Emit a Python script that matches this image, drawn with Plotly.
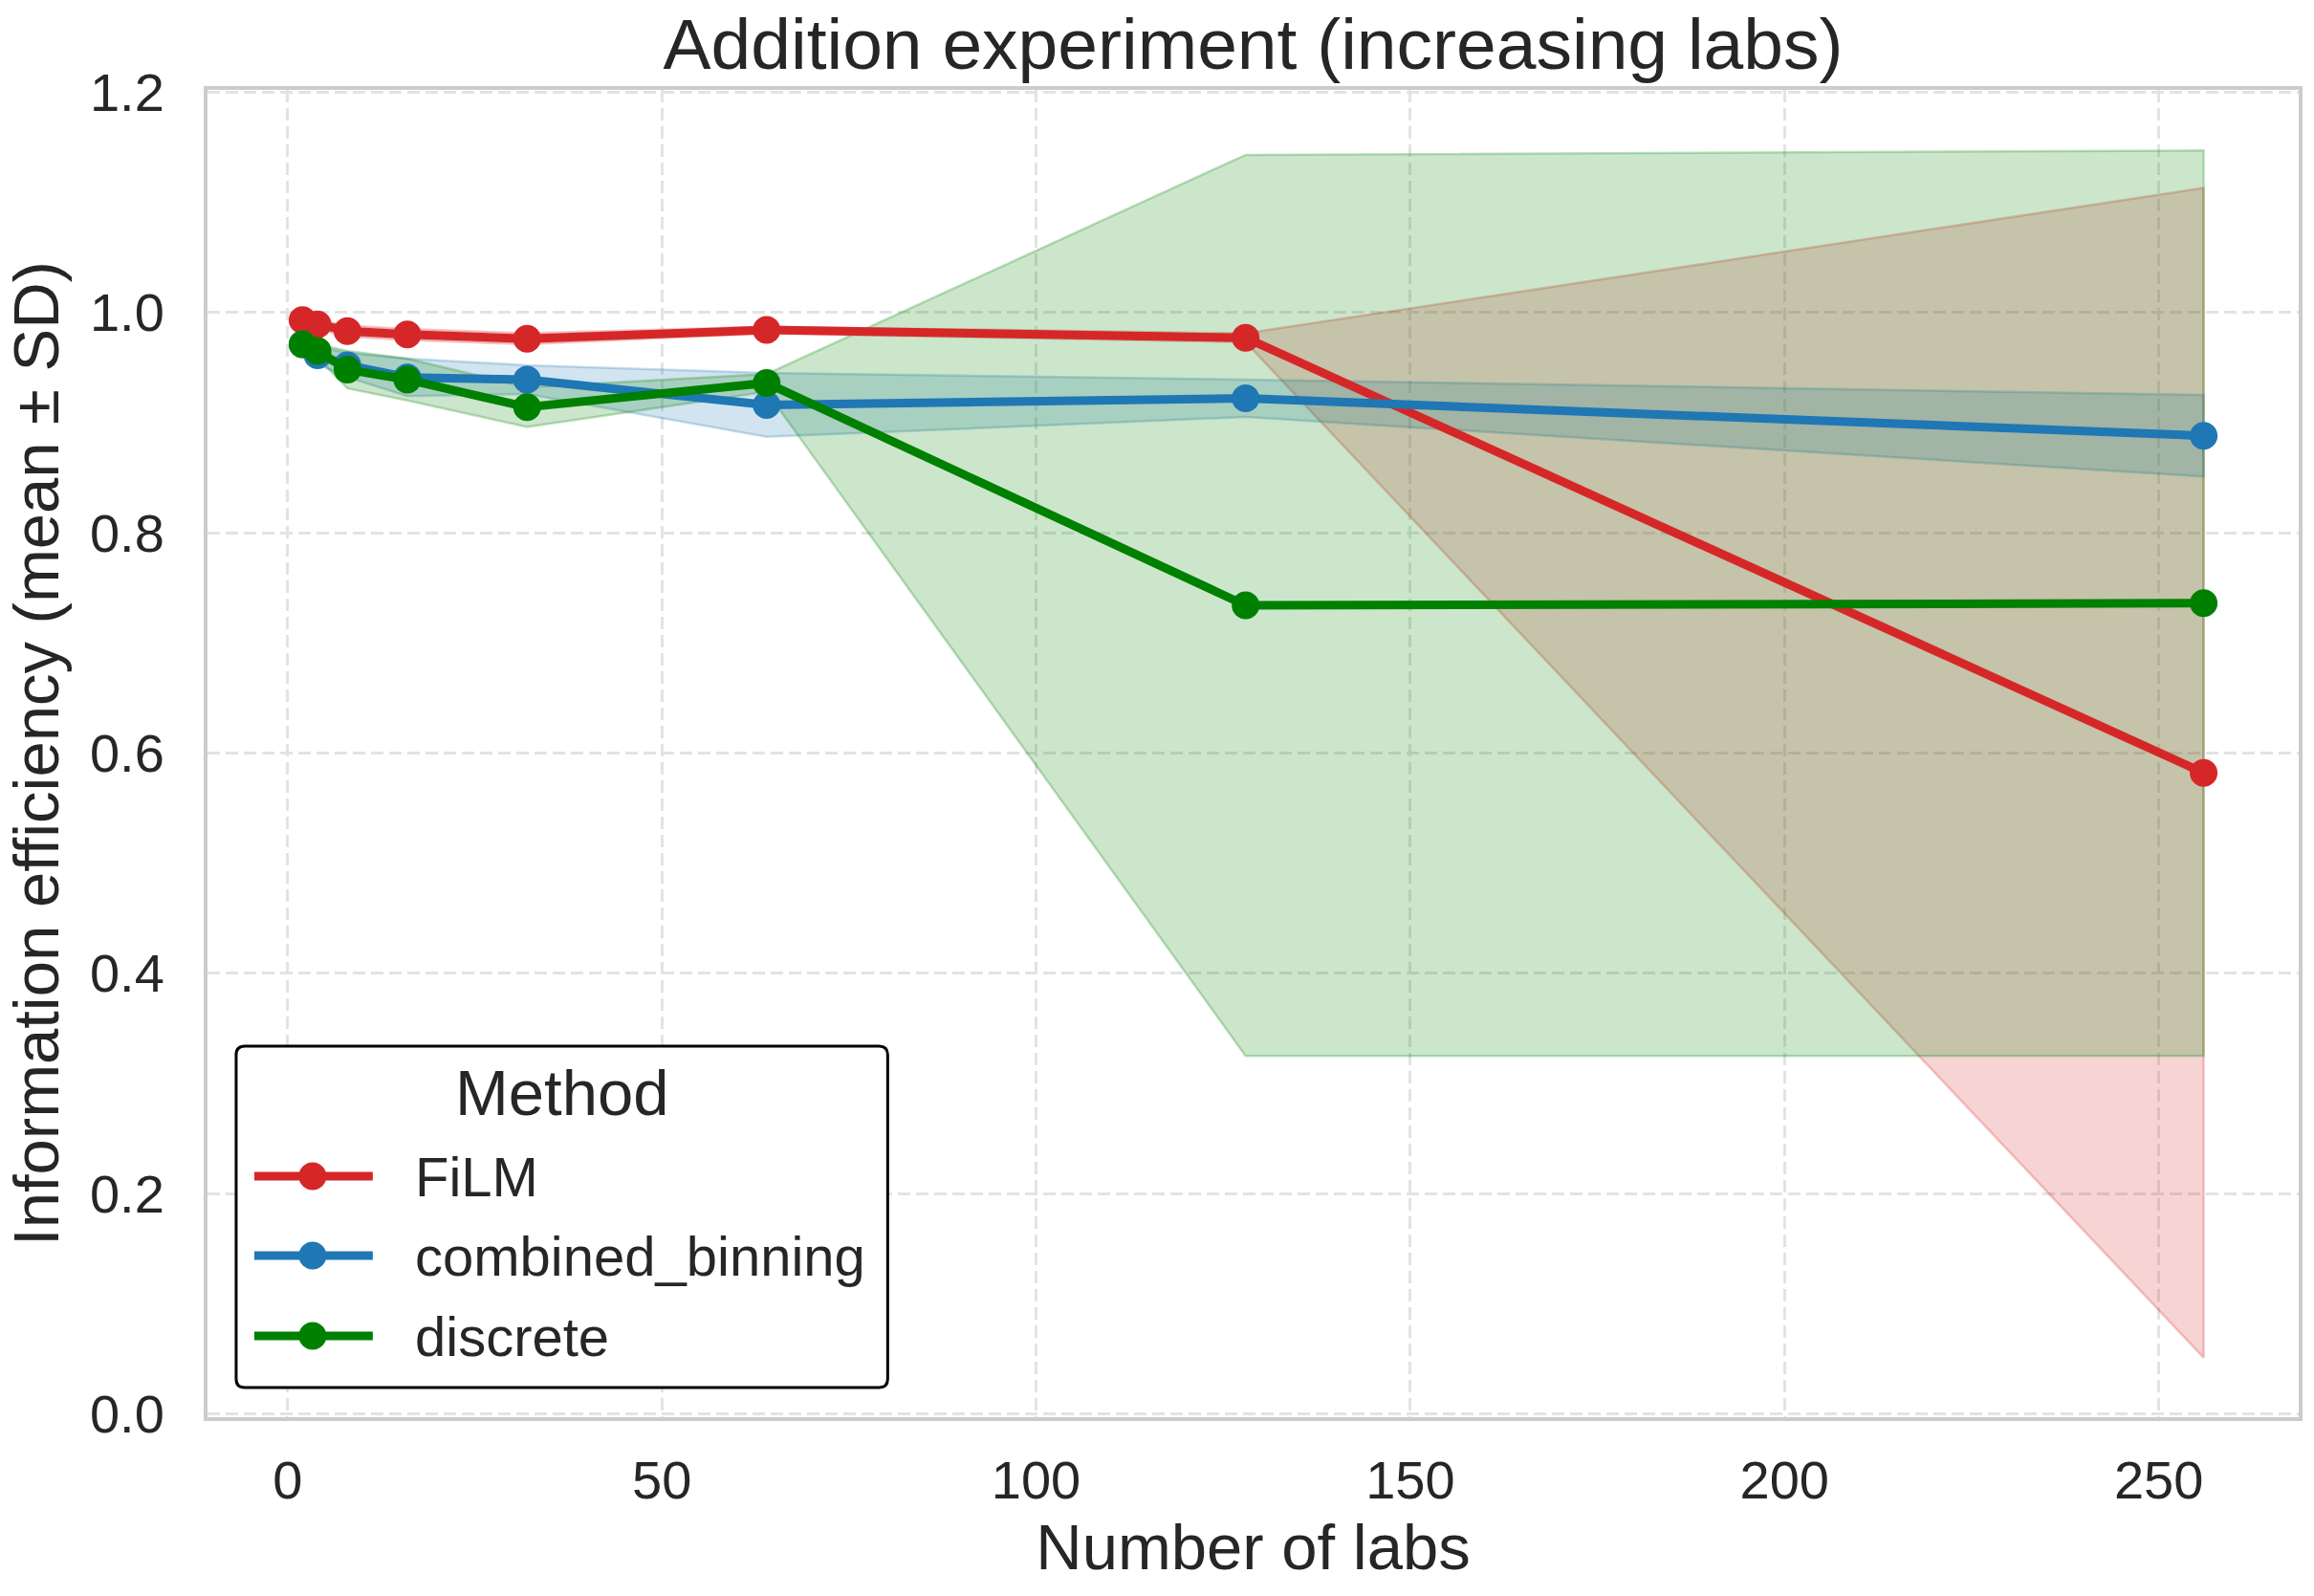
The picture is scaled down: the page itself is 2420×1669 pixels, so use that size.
import plotly.graph_objects as go

labs = [2, 4, 8, 16, 32, 64, 128, 256]

methods = ["FiLM", "combined_binning", "discrete"]

film_mean = [0.993, 0.989, 0.983, 0.980, 0.976, 0.984, 0.977, 0.582]
film_sd = [0.004, 0.004, 0.005, 0.005, 0.005, 0.003, 0.004, 0.531]

comb_mean = [0.971, 0.961, 0.952, 0.941, 0.939, 0.916, 0.922, 0.888]
comb_sd = [0.005, 0.008, 0.011, 0.017, 0.013, 0.029, 0.017, 0.037]

disc_mean = [0.971, 0.965, 0.948, 0.939, 0.914, 0.936, 0.734, 0.736]
disc_sd = [0.004, 0.006, 0.017, 0.019, 0.018, 0.008, 0.409, 0.411]

x_ticks = [0, 50, 100, 150, 200, 250]
y_ticks = [0.0, 0.2, 0.4, 0.6, 0.8, 1.0, 1.2]

colors = {"FiLM": (214, 39, 40), "combined_binning": (31, 119, 180), "discrete": (0, 128, 0)}
data = {
    "FiLM": (film_mean, film_sd),
    "combined_binning": (comb_mean, comb_sd),
    "discrete": (disc_mean, disc_sd),
}

FONT = "Arial, Liberation Sans, sans-serif"
TXT = "#262626"

W, H = 2420, 1669
ML, MR, MT, MB = 217, 14, 94, 187
PW, PH = W - ML - MR, H - MT - MB


def px(xp):
    return (xp - ML) / PW


def py(yp):
    return (H - MB - yp) / PH


fig = go.Figure()

# bands first
for m in methods:
    mean, sd = data[m]
    r, g, b = colors[m]
    upper = [mu + s for mu, s in zip(mean, sd)]
    lower = [mu - s for mu, s in zip(mean, sd)]
    fig.add_trace(go.Scatter(
        x=labs + labs[::-1],
        y=upper + lower[::-1],
        fill="toself",
        fillcolor=f"rgba({r},{g},{b},0.2)",
        line=dict(color=f"rgba({r},{g},{b},0.25)", width=2.5),
        mode="lines",
        hoverinfo="skip",
        showlegend=False,
    ))

# lines on top
for m in methods:
    mean, sd = data[m]
    r, g, b = colors[m]
    fig.add_trace(go.Scatter(
        x=labs, y=mean, name=m, mode="lines+markers",
        line=dict(color=f"rgb({r},{g},{b})", width=9),
        marker=dict(color=f"rgb({r},{g},{b})", size=29),
        showlegend=False,
    ))

# ---- legend (drawn in paper coordinates) ----
shapes = []
annotations = []
bx0, by0, bx1, by1, rad = 247, 1094, 929, 1451, 9
x0, x1 = px(bx0), px(bx1)
y0, y1 = py(by1), py(by0)
rx, ry = rad / PW, rad / PH
path = (f"M{x0+rx},{y1} L{x1-rx},{y1} Q{x1},{y1} {x1},{y1-ry} "
        f"L{x1},{y0+ry} Q{x1},{y0} {x1-rx},{y0} "
        f"L{x0+rx},{y0} Q{x0},{y0} {x0},{y0+ry} "
        f"L{x0},{y1-ry} Q{x0},{y1} {x0+rx},{y1} Z")
shapes.append(dict(type="path", xref="paper", yref="paper", path=path,
                   fillcolor="white", line=dict(color="black", width=3), layer="above"))
annotations.append(dict(text="Method", x=px(588), y=py(1142), xref="paper", yref="paper",
                        xanchor="center", yanchor="middle", showarrow=False,
                        font=dict(size=67, color=TXT, family=FONT)))
item_y = [1230, 1313, 1397]
for m, iy in zip(methods, item_y):
    r, g, b = colors[m]
    c = f"rgb({r},{g},{b})"
    shapes.append(dict(type="line", xref="paper", yref="paper",
                       x0=px(266), x1=px(390), y0=py(iy), y1=py(iy),
                       line=dict(color=c, width=9), layer="above"))
    shapes.append(dict(type="circle", xref="paper", yref="paper",
                       x0=px(327 - 14.5), x1=px(327 + 14.5), y0=py(iy + 14.5), y1=py(iy - 14.5),
                       fillcolor=c, line=dict(color=c, width=0), layer="above"))
    annotations.append(dict(text=m, x=px(432), y=py(iy), xref="paper", yref="paper",
                            xanchor="left", yanchor="middle", showarrow=False,
                            font=dict(size=58, color=TXT, family=FONT)))

fig.update_layout(
    width=W, height=H,
    margin=dict(l=ML, r=MR, t=MT, b=MB),
    paper_bgcolor="white", plot_bgcolor="white",
    font=dict(family=FONT, color=TXT, size=56),
    title=dict(text="Addition experiment (increasing labs)", x=0.5, xref="paper",
               y=1 - 46 / H, yref="container", yanchor="middle",
               font=dict(size=75, color=TXT, family=FONT)),
    showlegend=False,
    shapes=shapes,
    annotations=annotations,
)

axis_common = dict(
    showline=True, linecolor="#cccccc", linewidth=4, mirror=True,
    showgrid=True, gridcolor="#e3e3e3", gridwidth=3, griddash="13px,6px",
    zeroline=False, ticks="outside", tickcolor="rgba(0,0,0,0)",
    tickfont=dict(size=56, color=TXT, family=FONT),
)

fig.update_xaxes(
    range=[-10.7, 268.7], tickvals=x_ticks, ticklen=14,
    title=dict(text="Number of labs", font=dict(size=67, color=TXT), standoff=17),
    **axis_common,
)
fig.update_yaxes(
    range=[-0.003, 1.202], tickvals=y_ticks, tickformat=".1f", ticklen=30,
    title=dict(text="Information efficiency (mean ± SD)", font=dict(size=67, color=TXT), standoff=20),
    **axis_common,
)

fig.write_html("out.html")
